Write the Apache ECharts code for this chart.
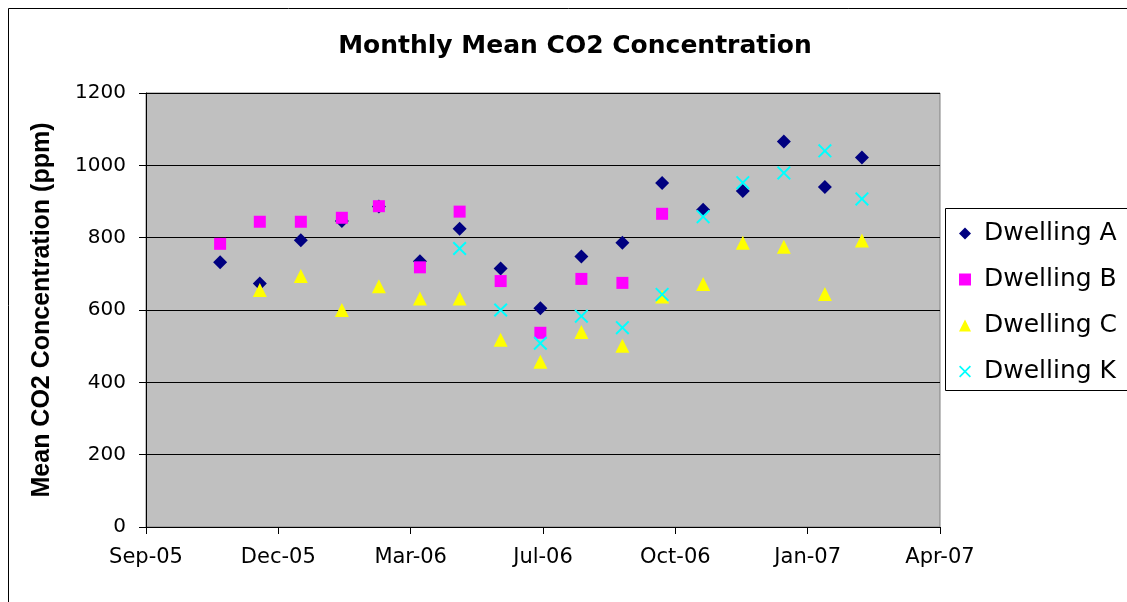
<!DOCTYPE html>
<html>
<head>
<meta charset="utf-8">
<script src="https://cdn.jsdelivr.net/npm/echarts@6/dist/echarts.min.js"></script>
<style>
  html, body { margin: 0; padding: 0; background: #ffffff; }
  #chart { width: 1127px; height: 602px; }
</style>
</head>
<body>
<div id="chart"></div>
<script>
// Monthly sampling dates (month end)
const sampleDates = [
  '2005-10-31', '2005-11-30', '2005-12-31', '2006-01-31', '2006-02-28',
  '2006-03-31', '2006-04-30', '2006-05-31', '2006-06-30', '2006-07-31',
  '2006-08-31', '2006-09-30', '2006-10-31', '2006-11-30', '2006-12-31',
  '2007-01-31', '2007-02-28'
];

// Mean CO2 concentration (ppm) per dwelling, null = no reading that month
const dwellingA = [732, 673, 793, 846, 886, 735, 825, 715, 605, 748, 786, 951, 877, 929, 1066, 940, 1022];
const dwellingB = [783, 844, 844, 855, 887, 718, 872, 680, 537, 686, 675, 866, null, null, null, null, null];
const dwellingC = [null, 655, 694, 600, 666, 632, 632, 518, 457, 539, 501, 637, 672, 786, 775, 644, 792];
const dwellingK = [null, null, null, null, null, null, 770, 600, 508, 583, 551, 643, 858, 952, 979, 1040, 907];

const seriesNames = ['Dwelling A', 'Dwelling B', 'Dwelling C', 'Dwelling K'];

// Axis ranges, in spreadsheet day serials
const xMin = 38600, xMax = 39200, xStep = 100;
const yMin = 0, yMax = 1200, yStep = 200;

const MONTHS = ['Jan','Feb','Mar','Apr','May','Jun','Jul','Aug','Sep','Oct','Nov','Dec'];
const EPOCH = Date.UTC(1899, 11, 30);
const DAY = 86400000;

function toSerial(iso) {
  const [y, m, d] = iso.split('-').map(Number);
  return Math.round((Date.UTC(y, m - 1, d) - EPOCH) / DAY);
}
function serialLabel(v) {
  const dt = new Date(EPOCH + v * DAY);
  return MONTHS[dt.getUTCMonth()] + '-' + String(dt.getUTCFullYear() % 100).padStart(2, '0');
}
function pairs(values) {
  return sampleDates.map((d, i) => [toSerial(d), values[i]]).filter(p => p[1] != null);
}

const xMarkPath = 'path://M0,1 L1,0 L5,4 L9,0 L10,1 L6,5 L10,9 L9,10 L5,6 L1,10 L0,9 L4,5 Z';

const chart = echarts.init(document.getElementById('chart'), null, { renderer: 'canvas' });

chart.setOption({
  animation: false,
  backgroundColor: '#ffffff',
  title: {
    text: 'Monthly Mean CO2 Concentration',
    left: 570,
    top: 29,
    textAlign: 'center',
    textStyle: { fontFamily: 'DejaVu Sans', fontWeight: 'bold', fontSize: 25, color: '#000' }
  },
  graphic: [
    {
      type: 'rect', z: -10, silent: true,
      shape: { x: 8.5, y: 8.5, width: 1200, height: 700 },
      style: { fill: 'none', stroke: '#000', lineWidth: 1 }
    },
    {
      type: 'rect', z: 0, silent: true,
      shape: { x: 945.5, y: 208.5, width: 300, height: 182 },
      style: { fill: '#fff', stroke: '#000', lineWidth: 1 }
    }
  ],
  grid: {
    left: 146, top: 93, right: 187, bottom: 75,
    show: true,
    backgroundColor: '#C0C0C0',
    borderColor: '#808080',
    borderWidth: 1
  },
  legend: {
    orient: 'vertical',
    left: 959,
    top: 221,
    padding: 0,
    itemWidth: 12,
    itemHeight: 12,
    itemGap: 21,
    z: 5,
    textStyle: { fontFamily: 'DejaVu Sans', fontSize: 25, lineHeight: 25, color: '#000', padding: [0, 0, 0, 8] },
    data: seriesNames
  },
  xAxis: {
    type: 'value',
    min: xMin, max: xMax, interval: xStep,
    axisLine: { show: true, lineStyle: { color: '#000', width: 1 } },
    axisTick: { show: true, inside: false, length: 7, lineStyle: { color: '#000' } },
    axisLabel: {
      margin: 20,
      fontFamily: 'DejaVu Sans', fontSize: 21, color: '#000',
      formatter: serialLabel
    },
    splitLine: { show: false }
  },
  yAxis: {
    type: 'value',
    min: yMin, max: yMax, interval: yStep,
    name: 'Mean CO2 Concentration (ppm)',
    nameLocation: 'middle',
    nameRotate: 90,
    nameGap: 91,
    nameTextStyle: { fontFamily: 'Liberation Sans', fontWeight: 'bold', fontSize: 25, color: '#000' },
    axisLine: { show: true, lineStyle: { color: '#000', width: 1 } },
    axisTick: { show: true, inside: false, length: 7, lineStyle: { color: '#000' } },
    axisLabel: {
      margin: 20, fontFamily: 'DejaVu Sans', fontSize: 20, color: '#000',
      formatter: v => String(v)
    },
    splitLine: { show: true, lineStyle: { color: '#000', width: 1 } }
  },
  series: [
    {
      name: seriesNames[0], type: 'scatter', data: pairs(dwellingA),
      symbol: 'diamond', symbolSize: 14,
      itemStyle: { color: '#000080', opacity: 1 }, emphasis: { disabled: true }
    },
    {
      name: seriesNames[1], type: 'scatter', data: pairs(dwellingB),
      symbol: 'rect', symbolSize: 12,
      itemStyle: { color: '#FF00FF', opacity: 1 }, emphasis: { disabled: true }
    },
    {
      name: seriesNames[2], type: 'scatter', data: pairs(dwellingC),
      symbol: 'triangle', symbolSize: 14,
      itemStyle: { color: '#FFFF00', opacity: 1 }, emphasis: { disabled: true }
    },
    {
      name: seriesNames[3], type: 'scatter', data: pairs(dwellingK),
      symbol: xMarkPath, symbolSize: 14,
      itemStyle: { color: '#00FFFF', opacity: 1 }, emphasis: { disabled: true }
    }
  ]
});
</script>
</body>
</html>
